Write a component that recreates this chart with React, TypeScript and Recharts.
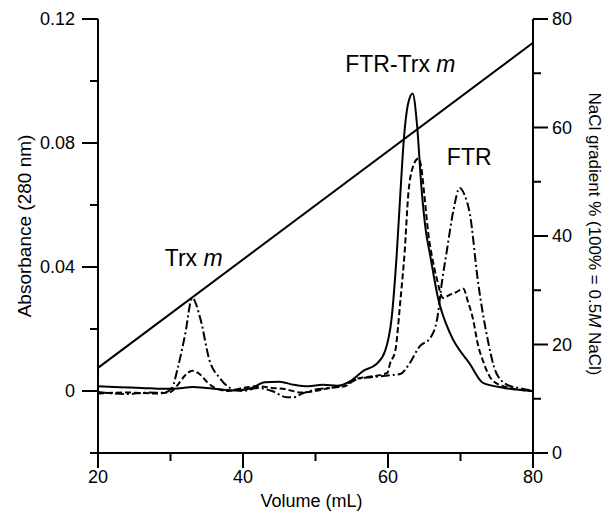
import { LineChart, Line, XAxis, YAxis, ReferenceDot } from 'recharts';

const FONT = '"Liberation Sans", Arial, Helvetica, sans-serif';

// volume (mL) and absorbance (280 nm)
const solidVol = [20, 23, 26, 29, 31, 33, 35, 37, 39, 41, 43, 45, 47, 49, 51, 53, 54.8, 56.6, 58.4, 59.6, 60.5, 61.2, 61.7, 62.2, 62.8, 63.4, 64.0, 64.6, 65.2, 65.8, 66.9, 68.6, 71.3, 73.1, 76, 80];
const solidAbs = [0.0015, 0.0012, 0.001, 0.0007, 0.0008, 0.0013, 0.001, 0.0005, 0.0002, 0.0008, 0.0028, 0.003, 0.002, 0.0015, 0.002, 0.0017, 0.0032, 0.0065, 0.0087, 0.0129, 0.0235, 0.044, 0.0635, 0.0816, 0.093, 0.096, 0.086, 0.066, 0.052, 0.044, 0.03, 0.0184, 0.0087, 0.0026, 0.001, 0];

const dashVol = [20, 24, 28, 30, 31, 32, 33, 34, 35, 36, 37, 38, 40, 42, 44, 46, 48, 50, 52, 54, 55.7, 57.1, 59.9, 60.3, 61, 61.7, 62.3, 62.8, 63.4, 64.2, 64.6, 65.0, 65.6, 66.1, 66.7, 67.6, 68.5, 69.5, 70.4, 71, 71.7, 72.4, 73.1, 74.5, 76.8, 80];
const dashAbs = [-0.0008, -0.0005, -0.0008, -0.0003, 0.002, 0.005, 0.0065, 0.0055, 0.003, 0.0012, 0.0003, 0, 0.001, 0.0015, 0.001, 0.0005, -0.0005, 0, 0.001, 0.0015, 0.004, 0.0045, 0.0058, 0.009, 0.0129, 0.029, 0.045, 0.0635, 0.072, 0.075, 0.072, 0.0635, 0.05, 0.043, 0.0365, 0.03, 0.031, 0.032, 0.033, 0.029, 0.0235, 0.015, 0.0097, 0.0032, 0.001, 0];

const dotVol = [20, 24, 27, 29, 30.2, 31, 32, 33, 34.1, 35.4, 36.8, 38.2, 40, 42, 44, 46, 47, 48, 50, 52, 54, 56, 58, 60, 61.7, 63, 64.4, 65.8, 66.8, 67.4, 68.1, 69, 69.9, 70.6, 71.3, 72.4, 73.6, 75, 76.8, 78, 80];
const dotAbs = [-0.0003, -0.001, -0.0005, -0.0006, 0.001, 0.0074, 0.018, 0.03, 0.0235, 0.0097, 0.0042, 0.001, 0, 0.001, 0, -0.002, -0.002, -0.001, 0.0005, 0.001, 0.002, 0.004, 0.0045, 0.005, 0.0055, 0.009, 0.0145, 0.017, 0.0235, 0.0345, 0.045, 0.058, 0.0655, 0.063, 0.057, 0.0355, 0.0184, 0.0055, 0.0016, 0.001, 0];

// NaCl gradient (%)
const gradVol = [20, 80];
const gradPct = [15.7, 75.6];

const xTicks = [20, 30, 40, 50, 60, 70, 80];
const leftTicks = [-0.02, 0, 0.02, 0.04, 0.06, 0.08, 0.1, 0.12];
const rightTicks = [0, 10, 20, 30, 40, 50, 60, 70, 80];

const solidData = solidVol.map((v, i) => ({ v, a: solidAbs[i] }));
const dashData = dashVol.map((v, i) => ({ v, a: dashAbs[i] }));
const dotData = dotVol.map((v, i) => ({ v, a: dotAbs[i] }));
const gradData = gradVol.map((v, i) => ({ v, g: gradPct[i] }));

const MAJOR = 15;
const MINOR = 8;

function XTick({ x, y, payload }: any) {
  const major = payload.value % 20 === 0;
  return (
    <g>
      <line x1={x} x2={x} y1={y} y2={y + (major ? MAJOR : MINOR)} stroke="#000" strokeWidth={2} />
      {major && (
        <text x={x} y={y + 30} textAnchor="middle" fontSize={18} fontFamily={FONT} fill="#000">
          {payload.value}
        </text>
      )}
    </g>
  );
}

function LeftTick({ x, y, payload }: any) {
  const major = Math.round(payload.value * 100) % 4 === 0;
  return (
    <g>
      <line x1={x} x2={x - (major ? MAJOR + 1 : MINOR)} y1={y} y2={y} stroke="#000" strokeWidth={2} />
      {major && (
        <text x={x - 23} y={y} dy="0.36em" textAnchor="end" fontSize={18} fontFamily={FONT} fill="#000">
          {String(payload.value)}
        </text>
      )}
    </g>
  );
}

function RightTick({ x, y, payload }: any) {
  const major = payload.value % 20 === 0;
  return (
    <g>
      <line x1={x} x2={x + (major ? MAJOR : MINOR)} y1={y} y2={y} stroke="#000" strokeWidth={2} />
      {major && (
        <text x={x + 19} y={y} dy="0.36em" textAnchor="start" fontSize={18} fontFamily={FONT} fill="#000">
          {payload.value}
        </text>
      )}
    </g>
  );
}

const peakLabel = (main: string, ital: string) => ({ viewBox }: any) => (
  <text x={viewBox.x} y={viewBox.y} textAnchor="middle" fontSize={23} fontFamily={FONT} fill="#000">
    <tspan>{main}</tspan>
    {ital && <tspan fontStyle="italic">{ital}</tspan>}
  </text>
);

const axisStyle = { stroke: '#000', strokeWidth: 2 };

export default function App() {
  return (
    <div style={{ position: 'absolute', left: 0, top: 0, width: 605, height: 512, background: '#fff' }}>
      <LineChart width={605} height={512} margin={{ top: 19, right: 0, bottom: 0, left: 0 }}>
        <XAxis
          type="number"
          dataKey="v"
          domain={[20, 80]}
          ticks={xTicks}
          interval={0}
          allowDataOverflow
          height={59}
          axisLine={axisStyle}
          tickLine={false}
          tickSize={0}
          tickMargin={0}
          tick={<XTick />}
          label={{
            content: ({ viewBox }: any) => (
              <text x={viewBox.x + viewBox.width / 2 - 4} y={viewBox.y + 54} textAnchor="middle" fontSize={18} fontFamily={FONT} fill="#000">
                Volume (mL)
              </text>
            ),
          }}
        />
        <YAxis
          yAxisId="left"
          type="number"
          domain={[-0.02, 0.12]}
          ticks={leftTicks}
          interval={0}
          allowDataOverflow
          width={98}
          axisLine={axisStyle}
          tickLine={false}
          tickSize={0}
          tickMargin={0}
          tick={<LeftTick />}
          label={{
            content: ({ viewBox }: any) => (
              <text
                transform={`translate(${viewBox.x + 31}, ${viewBox.y + viewBox.height / 2 - 10}) rotate(-90)`}
                textAnchor="middle"
                fontSize={19}
                fontFamily={FONT}
                fill="#000"
              >
                Absorbance (280 nm)
              </text>
            ),
          }}
        />
        <YAxis
          yAxisId="right"
          orientation="right"
          type="number"
          domain={[0, 80]}
          ticks={rightTicks}
          interval={0}
          allowDataOverflow
          width={72}
          axisLine={axisStyle}
          tickLine={false}
          tickSize={0}
          tickMargin={0}
          tick={<RightTick />}
          label={{
            content: ({ viewBox }: any) => (
              <text
                transform={`translate(${viewBox.x + 56}, ${viewBox.y + viewBox.height / 2 - 2}) rotate(90)`}
                textAnchor="middle"
                fontSize={17}
                fontFamily={FONT}
                fill="#000"
              >
                NaCl gradient % (100% = 0.5
                <tspan fontStyle="italic">M</tspan> NaCl)
              </text>
            ),
          }}
        />
        <Line yAxisId="right" data={gradData} dataKey="g" type="linear" stroke="#000" strokeWidth={2} dot={false} activeDot={false} isAnimationActive={false} />
        <Line yAxisId="left" data={solidData} dataKey="a" type="monotone" stroke="#000" strokeWidth={2} dot={false} activeDot={false} isAnimationActive={false} />
        <Line yAxisId="left" data={dashData} dataKey="a" type="monotone" stroke="#000" strokeWidth={2} strokeDasharray="6 3" dot={false} activeDot={false} isAnimationActive={false} />
        <Line yAxisId="left" data={dotData} dataKey="a" type="monotone" stroke="#000" strokeWidth={2} strokeDasharray="9 3 2 3" dot={false} activeDot={false} isAnimationActive={false} />
        <ReferenceDot yAxisId="left" x={33.2} y={0.0403} r={0} fill="none" stroke="none" label={{ content: peakLabel('Trx ', 'm') }} />
        <ReferenceDot yAxisId="left" x={61.7} y={0.1029} r={0} fill="none" stroke="none" label={{ content: peakLabel('FTR-Trx ', 'm') }} />
        <ReferenceDot yAxisId="left" x={71.2} y={0.0729} r={0} fill="none" stroke="none" label={{ content: peakLabel('FTR', '') }} />
      </LineChart>
    </div>
  );
}
